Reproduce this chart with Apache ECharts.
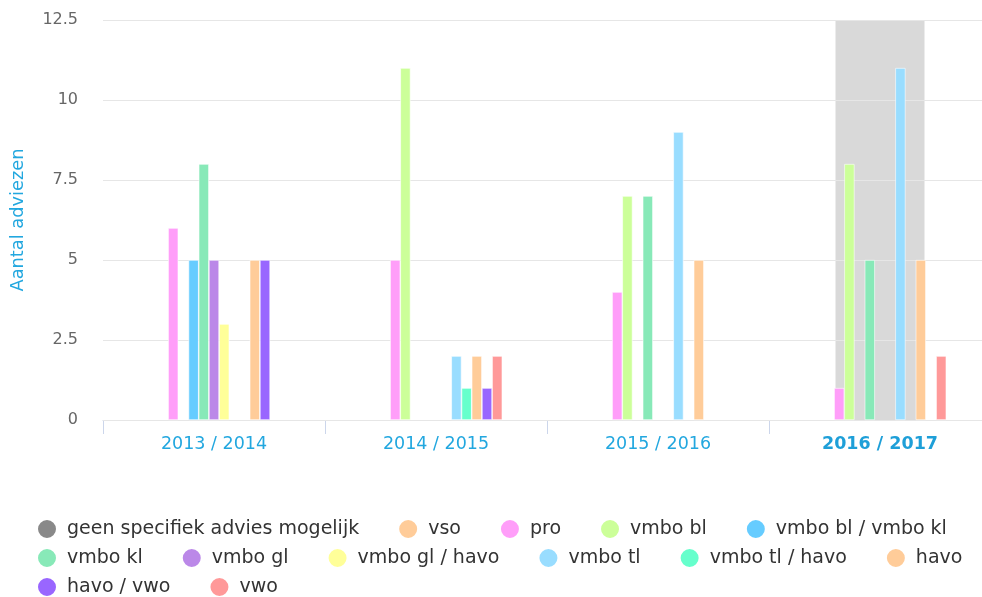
<!DOCTYPE html>
<html>
<head>
<meta charset="utf-8">
<title>Aantal adviezen</title>
<script src="https://cdn.jsdelivr.net/npm/echarts@6/dist/echarts.min.js"></script>
<style>
    html, body { margin: 0; padding: 0; background: #fff; }
    #chart { width: 982px; height: 597px; }
</style>
</head>
<body>
<div id="chart"></div>
<script>
// schooljaren
const years = ['2013 / 2014', '2014 / 2015', '2015 / 2016', '2016 / 2017'];

// aantal adviezen per soort (null = geen balk)
const geen = [null, null, null, null];
const vso = [null, null, null, null];
const pro = [6, 5, 4, 1];
const vmboBl = [null, 11, 7, 8];
const vmboBlKl = [5, null, null, null];
const vmboKl = [8, null, 7, 5];
const vmboGl = [5, null, null, null];
const vmboGlHavo = [3, null, null, null];
const vmboTl = [null, 2, 9, 11];
const vmboTlHavo = [null, 1, null, null];
const havo = [5, 2, 5, 5];
const havoVwo = [5, 1, null, null];
const vwo = [null, 2, null, 2];

const seriesNames = [
    'geen specifiek advies mogelijk', 'vso', 'pro', 'vmbo bl', 'vmbo bl / vmbo kl',
    'vmbo kl', 'vmbo gl', 'vmbo gl / havo', 'vmbo tl', 'vmbo tl / havo', 'havo',
    'havo / vwo', 'vwo'
];
const seriesData = [geen, vso, pro, vmboBl, vmboBlKl, vmboKl, vmboGl, vmboGlHavo,
    vmboTl, vmboTlHavo, havo, havoVwo, vwo];
const colors = ['#898989', '#FFCC99', '#FF9EF9', '#CCFF99', '#66CCFF', '#88E9B8',
    '#BB88E8', '#FFFF99', '#99DDFF', '#66FFCC', '#FFCC99', '#9966FF', '#FF9999'];

// y-as
const yMin = 0;
const yMax = 12.5;
const yStep = 2.5;

// gemarkeerd schooljaar (hover)
const hoverIndex = 3;
const hoverBand = years.map((y, i) => (i === hoverIndex ? yMax : null));

const chart = echarts.init(document.getElementById('chart'));

const font = 'DejaVu Sans';
const blue = '#22A7DF';

const barSeries = seriesNames.map((name, i) => ({
    name: name,
    type: 'bar',
    xAxisIndex: 0,
    barWidth: 10.2,
    barGap: '0%',
    z: 3,
    itemStyle: {
        color: colors[i],
        borderColor: '#fff',
        borderWidth: 0.6
    },
    data: seriesData[i]
}));

// schaduw achter het gemarkeerde jaar (onder de rasterlijnen)
barSeries.push({
    name: 'hover',
    type: 'bar',
    xAxisIndex: 1,
    barWidth: 89,
    silent: true,
    z: 1,
    itemStyle: { color: '#D9D9D9' },
    data: hoverBand
});

function legendRow(names, top) {
    return {
        show: true,
        left: 36,
        top: top,
        padding: 0,
        orient: 'horizontal',
        icon: 'circle',
        itemWidth: 20,
        itemHeight: 20,
        itemGap: 38,
        selectedMode: false,
        textStyle: {
            fontFamily: font,
            fontSize: 19,
            color: '#333',
            padding: [0, 0, 0, 5]
        },
        data: names
    };
}

const option = {
    animation: false,
    color: colors,
    textStyle: { fontFamily: font },
    grid: {
        left: 103,
        right: -9,
        top: 20,
        bottom: 177,
        containLabel: false,
        outerBoundsMode: 'none'
    },
    legend: [
        legendRow(seriesNames.slice(0, 5), 518),
        legendRow(seriesNames.slice(5, 11), 547),
        legendRow(seriesNames.slice(11), 576)
    ],
    xAxis: [{
        type: 'category',
        data: years,
        axisLine: { lineStyle: { color: '#CCD6EB', width: 1 } },
        axisTick: { show: true, length: 14, lineStyle: { color: '#CCD6EB' } },
        splitLine: { show: false },
        axisLabel: {
            margin: 15,
            fontFamily: font,
            fontSize: 17.5,
            color: blue,
            formatter: (v, i) => (i === hoverIndex ? '{b|' + v + '}' : v),
            rich: {
                b: { fontFamily: font, fontSize: 17.5, fontWeight: 'bold', color: '#1E9FD8' }
            }
        }
    }, {
        type: 'category',
        data: years,
        show: false
    }],
    yAxis: {
        type: 'value',
        z: 2,
        min: yMin,
        max: yMax,
        interval: yStep,
        name: 'Aantal adviezen',
        nameLocation: 'middle',
        nameRotate: 90,
        nameGap: 76,
        nameTextStyle: { fontFamily: font, fontSize: 17.8, color: blue },
        axisLine: { show: false },
        axisTick: { show: false },
        axisLabel: { margin: 25, fontFamily: font, fontSize: 16, color: '#666' },
        splitLine: { lineStyle: { color: '#E6E6E6', width: 1 } }
    },
    series: barSeries
};

chart.setOption(option);

window.addEventListener('resize', () => {
    chart && chart.resize();
});
</script>
</body>
</html>
